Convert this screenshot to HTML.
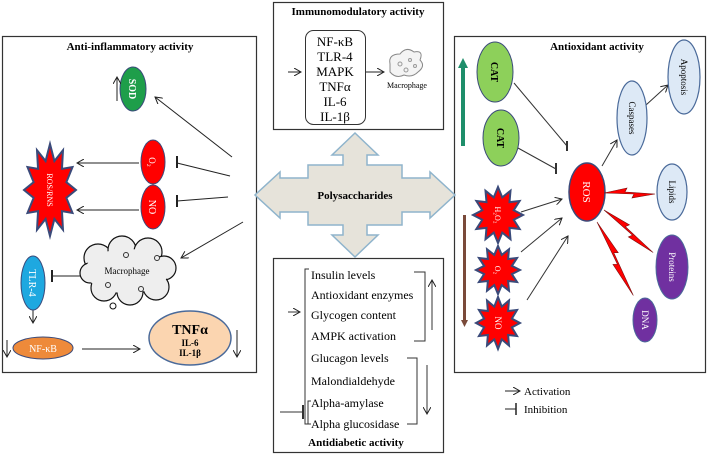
<!DOCTYPE html>
<html><head><meta charset="utf-8"><style>
html,body{margin:0;padding:0;background:#fff;}
svg{display:block;font-family:"Liberation Serif",serif;}
</style></head><body>
<svg width="709" height="460" viewBox="0 0 709 460" xmlns="http://www.w3.org/2000/svg">
<defs>
<marker id="ah" markerWidth="8" markerHeight="8" refX="7" refY="4" orient="auto" markerUnits="userSpaceOnUse"><path d="M0,0 L7,4 L0,8" fill="none" stroke="#222" stroke-width="1"/></marker>
<polygon id="star" points="1,0 0.63,0.17 0.866,0.5 0.46,0.46 0.5,0.866 0.17,0.63 0,1 -0.17,0.63 -0.5,0.866 -0.46,0.46 -0.866,0.5 -0.63,0.17 -1,0 -0.63,-0.17 -0.866,-0.5 -0.46,-0.46 -0.5,-0.866 -0.17,-0.63 0,-1 0.17,-0.63 0.5,-0.866 0.46,-0.46 0.866,-0.5 0.63,-0.17" fill="#f00" stroke="#3a4a7a" stroke-width="2" vector-effect="non-scaling-stroke"/>
</defs>
<g fill="none" stroke="#333" stroke-width="1.2">
<rect x="2.5" y="36.5" width="254" height="336"/>
<rect x="273.5" y="2.5" width="170" height="127"/>
<rect x="273.5" y="258.5" width="170" height="194"/>
<rect x="454.5" y="36.5" width="251" height="336"/>
</g>
<polygon points="355,133 378,155 367,155 367,165 402,165 402,178 430,178 430,172 455,195 430,218 430,212 402,212 402,225 367,225 367,235 378,235 355,257 332,235 343,235 343,225 308,225 308,212 280,212 280,218 255,195 280,172 280,178 308,178 308,165 343,165 343,155 332,155" fill="#e6e3da" stroke="#8fb4cc" stroke-width="1.5"/>
<text x="355" y="199" font-size="11" font-weight="bold" text-anchor="middle">Polysaccharides</text>

<text x="130" y="50" font-size="11" font-weight="bold" text-anchor="middle">Anti-inflammatory activity</text>
<ellipse cx="133" cy="89" rx="13" ry="22" fill="#1e9e4a" stroke="#3a4a7a"/>
<text transform="translate(129,89) rotate(90)" font-size="10" font-weight="bold" fill="#fff" text-anchor="middle">SOD</text>
<g stroke="#222" stroke-width="1" fill="none">
<line x1="117" y1="101" x2="117" y2="77" marker-end="url(#ah)"/>
<line x1="232" y1="157" x2="155" y2="97" marker-end="url(#ah)"/>
<line x1="139" y1="163" x2="77" y2="163" marker-end="url(#ah)"/>
<line x1="139" y1="210" x2="77" y2="210" marker-end="url(#ah)"/>
<line x1="230" y1="176" x2="177" y2="163"/><line x1="177" y1="156" x2="177" y2="168" stroke-width="2"/>
<line x1="228" y1="197" x2="177" y2="201"/><line x1="177" y1="195" x2="177" y2="207" stroke-width="2"/>
<line x1="243" y1="222" x2="181" y2="258" marker-end="url(#ah)"/>
<line x1="81" y1="276" x2="52" y2="276"/><line x1="52" y1="270" x2="52" y2="282" stroke-width="2"/>
<line x1="33" y1="310" x2="33" y2="323" marker-end="url(#ah)"/>
<line x1="7" y1="340" x2="7" y2="357" marker-end="url(#ah)"/>
<line x1="82" y1="349" x2="140" y2="349" marker-end="url(#ah)"/>
<line x1="237" y1="330" x2="237" y2="357" marker-end="url(#ah)"/>
</g>
<ellipse cx="153" cy="162" rx="12" ry="22" fill="#f00" stroke="#3a4a7a"/>
<text transform="translate(149,162) rotate(90)" font-size="9" fill="#fff" text-anchor="middle">O₂</text>
<ellipse cx="153" cy="207" rx="12" ry="22" fill="#f00" stroke="#3a4a7a"/>
<text transform="translate(149,207) rotate(90)" font-size="10" fill="#fff" text-anchor="middle">NO</text>
<use href="#star" transform="translate(50,190) scale(26,46)"/>
<text transform="translate(47,190) rotate(90)" font-size="8" fill="#fff" text-anchor="middle">ROS/RNS</text>
<g fill="#eee" stroke="#111" stroke-width="1.2">
<circle cx="98" cy="258" r="14"/><circle cx="122" cy="250" r="14"/><circle cx="148" cy="252" r="14"/><circle cx="164" cy="268" r="12"/><circle cx="156" cy="287" r="13"/><circle cx="130" cy="292" r="13"/><circle cx="104" cy="288" r="13"/><circle cx="90" cy="273" r="10"/>
</g>
<ellipse cx="127" cy="271" rx="42" ry="22" fill="#eee"/>
<circle cx="113" cy="306" r="3" fill="#fff" stroke="#111"/>
<text x="127" y="274" font-size="9" text-anchor="middle">Macrophage</text>
<g fill="none" stroke="#333"><circle cx="126" cy="255" r="2.5"/><circle cx="108" cy="285" r="2.5"/><circle cx="157" cy="258" r="2.5"/><circle cx="141" cy="289" r="2.5"/></g>
<ellipse cx="33" cy="283" rx="12" ry="27" fill="#1ea8e0" stroke="#3a4a7a"/>
<text transform="translate(29,283) rotate(90)" font-size="10" fill="#fff" text-anchor="middle">TLR-4</text>
<ellipse cx="43" cy="348" rx="30" ry="11" fill="#ee8a3a" stroke="#3a4a7a"/>
<text x="43" y="352" font-size="10" fill="#fff" text-anchor="middle">NF-κB</text>
<ellipse cx="190" cy="338" rx="41" ry="27" fill="#fbd5b0" stroke="#4a6a9a" stroke-width="1.5"/>
<text x="190" y="334" font-size="14" font-weight="bold" text-anchor="middle">TNFα</text>
<text x="190" y="346" font-size="9" font-weight="bold" text-anchor="middle">IL-6</text>
<text x="190" y="356" font-size="9" font-weight="bold" text-anchor="middle">IL-1β</text>

<text x="358" y="15" font-size="11" font-weight="bold" text-anchor="middle">Immunomodulatory activity</text>
<rect x="305.5" y="30.5" width="60" height="94" rx="8" fill="none" stroke="#333"/>
<g font-size="13" text-anchor="middle">
<text x="335" y="46">NF-κB</text><text x="335" y="61">TLR-4</text><text x="335" y="76">MAPK</text><text x="335" y="91">TNFα</text><text x="335" y="106">IL-6</text><text x="335" y="121">IL-1β</text>
</g>
<g stroke="#222" fill="none">
<line x1="288" y1="72" x2="301" y2="72" marker-end="url(#ah)"/>
<line x1="366" y1="72" x2="384" y2="72" marker-end="url(#ah)"/>
</g>
<path d="M390,64 q-2,-10 10,-10 q6,-8 14,-2 q10,-2 6,8 q6,6 -2,12 q-6,6 -14,3 q-8,4 -14,-3 z" fill="#f4f4f4" stroke="#888"/>
<g fill="none" stroke="#999"><circle cx="400" cy="64" r="2"/><circle cx="410" cy="60" r="1.5"/><circle cx="406" cy="70" r="2"/><circle cx="415" cy="66" r="1.5"/></g>
<text x="407" y="88" font-size="8" text-anchor="middle">Macrophage</text>

<g font-size="12">
<text x="311" y="279">Insulin levels</text>
<text x="311" y="299">Antioxidant enzymes</text>
<text x="311" y="319">Glycogen content</text>
<text x="311" y="340">AMPK activation</text>
<text x="311" y="362">Glucagon levels</text>
<text x="311" y="385">Malondialdehyde</text>
<text x="311" y="407">Alpha-amylase</text>
<text x="311" y="428">Alpha glucosidase</text>
</g>
<text x="356" y="446" font-size="11" font-weight="bold" text-anchor="middle">Antidiabetic activity</text>
<g stroke="#333" fill="none" stroke-width="1">
<path d="M309,269 H305 V424 H309"/>
<path d="M414,272 H425 V341 H414"/>
<line x1="432" y1="330" x2="432" y2="280" marker-end="url(#ah)"/>
<path d="M407,358 H417 V424 H407"/>
<line x1="427" y1="365" x2="427" y2="414" marker-end="url(#ah)"/>
<line x1="288" y1="312" x2="300" y2="312" marker-end="url(#ah)"/>
<line x1="280" y1="412" x2="302" y2="412"/><line x1="303" y1="405" x2="303" y2="419" stroke-width="2"/>
<path d="M311,401 H308 V424 H311"/>
</g>

<text x="597" y="50" font-size="11" font-weight="bold" text-anchor="middle">Antioxidant activity</text>
<rect x="461" y="66" width="4" height="80" fill="#1e8e6a"/>
<polygon points="458,68 463,58 468,68" fill="#1e8e6a"/>
<rect x="463" y="215" width="3" height="106" fill="#7a4a3a"/>
<polygon points="461,320 464.5,327 468,320" fill="#7a4a3a"/>
<ellipse cx="495" cy="72" rx="18" ry="30" fill="#8dd05a" stroke="#3a4a7a"/>
<text transform="translate(491,72) rotate(90)" font-size="10" font-weight="bold" text-anchor="middle">CAT</text>
<ellipse cx="501" cy="138" rx="18" ry="28" fill="#8dd05a" stroke="#3a4a7a"/>
<text transform="translate(497,138) rotate(90)" font-size="10" font-weight="bold" text-anchor="middle">CAT</text>
<g stroke="#333" fill="none">
<line x1="514" y1="83" x2="567" y2="146"/><line x1="567" y1="141" x2="567" y2="151" stroke-width="2"/>
<line x1="518" y1="148" x2="556" y2="169"/><line x1="556" y1="163" x2="556" y2="174" stroke-width="2"/>
<line x1="521" y1="212" x2="562" y2="199" marker-end="url(#ah)"/>
<line x1="521" y1="252" x2="562" y2="218" marker-end="url(#ah)"/>
<line x1="527" y1="300" x2="568" y2="236" marker-end="url(#ah)"/>
<line x1="602" y1="166" x2="617" y2="140" marker-end="url(#ah)"/>
<line x1="646" y1="105" x2="668" y2="85" marker-end="url(#ah)"/>
</g>
<use href="#star" transform="translate(498,215) scale(25,28)"/>
<text transform="translate(495,215) rotate(90)" font-size="8" fill="#fff" text-anchor="middle">H₂O₂</text>
<use href="#star" transform="translate(498,270) scale(22,24)"/>
<text transform="translate(495,270) rotate(90)" font-size="8" fill="#fff" text-anchor="middle">O₂</text>
<use href="#star" transform="translate(498,323) scale(22,26)"/>
<text transform="translate(495,323) rotate(90)" font-size="9" fill="#fff" text-anchor="middle">NO</text>
<ellipse cx="587" cy="192" rx="18" ry="29" fill="#f00" stroke="#3a4a7a" stroke-width="1.5"/>
<text transform="translate(583,192) rotate(90)" font-size="11" fill="#fff" text-anchor="middle">ROS</text>
<g fill="#dde9f6" stroke="#4a6a9a" stroke-width="1.2">
<ellipse cx="632" cy="118" rx="15" ry="37"/>
<ellipse cx="684" cy="77" rx="16" ry="37"/>
<ellipse cx="672" cy="192" rx="15" ry="28"/>
</g>
<text transform="translate(629,118) rotate(90)" font-size="9" text-anchor="middle">Caspases</text>
<text transform="translate(681,77) rotate(90)" font-size="9" text-anchor="middle">Apoptosis</text>
<text transform="translate(669,192) rotate(90)" font-size="9" text-anchor="middle">Lipids</text>
<ellipse cx="672" cy="267" rx="16" ry="32" fill="#7030a0" stroke="#4a6a9a"/>
<text transform="translate(669,267) rotate(90)" font-size="9" fill="#fff" text-anchor="middle">Proteins</text>
<ellipse cx="645" cy="320" rx="12" ry="22" fill="#7030a0" stroke="#4a6a9a"/>
<text transform="translate(642,320) rotate(90)" font-size="9" fill="#fff" text-anchor="middle">DNA</text>
<g fill="#f00" stroke="#7a1010" stroke-width="0.6">
<polygon transform="translate(604,193)" points="0,0 23,-5 21,-1 51,1 28,5 30,1"/>
<polygon transform="translate(604,210) rotate(40)" points="0,0 29,-5 27,-1 65,1 36,5 38,1"/>
<polygon transform="translate(597,222) rotate(63)" points="0,0 37,-5 35,-1 82,1 45,5 47,1"/>
</g>
<line x1="505" y1="391" x2="520" y2="391" stroke="#222" marker-end="url(#ah)"/>
<text x="524" y="395" font-size="11">Activation</text>
<line x1="505" y1="409" x2="516" y2="409" stroke="#222"/><line x1="516" y1="403" x2="516" y2="415" stroke="#222" stroke-width="1.5"/>
<text x="524" y="413" font-size="11">Inhibition</text>
</svg>
</body></html>
